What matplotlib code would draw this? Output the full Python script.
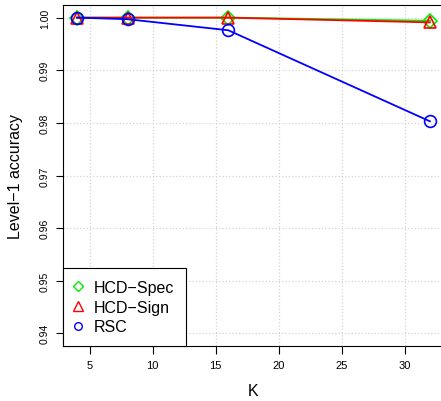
import matplotlib.pyplot as plt
from matplotlib.lines import Line2D

plt.rcParams["font.family"] = ["Liberation Sans", "DejaVu Sans"]

# Accuracy vs K
K = [4, 8, 16, 32]
hcd_spec = [1.0, 1.0, 1.0, 0.9994]
hcd_sign = [1.0, 1.0, 1.0, 0.9991]
rsc = [1.0, 0.9997, 0.9976, 0.9803]

series_names = ["HCD\u2212Spec", "HCD\u2212Sign", "RSC"]
xticks = [5, 10, 15, 20, 25, 30]
yticks = [0.94, 0.95, 0.96, 0.97, 0.98, 0.99, 1.00]

fig = plt.figure(figsize=(4.41, 4.02), dpi=100)
ax = fig.add_axes([63 / 441, 55 / 402, 381 / 441, 341 / 402])

for x in xticks:
    ax.axvline(x, color="#d3d3d3", ls=":", lw=0.9, zorder=0)
for y in yticks:
    ax.axhline(y, color="#d3d3d3", ls=":", lw=0.9, zorder=0)

ax.plot(K, hcd_spec, color="#00ee00", lw=1.3, marker="D", ms=7.3,
        mfc="none", mew=1.2)
ax.plot(K, hcd_sign, color="red", lw=1.3, marker="^", ms=9,
        mfc="none", mew=1.2)
ax.plot(K, rsc, color="blue", lw=1.3, marker="o", ms=8.5,
        mfc="none", mew=1.2)

ax.set_xlim(2.88, 33.12)
ax.set_ylim(0.9376, 1.0024)
ax.set_xticks(xticks)
ax.set_yticks(yticks)
ax.set_yticklabels([f"{v:.2f}" for v in yticks], rotation=90, va="center")
ax.tick_params(axis="x", labelsize=8, length=5.5, width=0.8, pad=4.5)
ax.tick_params(axis="y", labelsize=7.5, length=5, width=0.8, pad=4.5)

for s in ax.spines.values():
    s.set_linewidth(0.8)
    s.set_color("black")
ax.spines["right"].set_visible(False)

ax.set_xlabel("K", fontsize=11.5)
ax.set_ylabel("Level\u22121 accuracy", fontsize=11.5)
ax.xaxis.set_label_coords(0.5, -0.108)
ax.yaxis.set_label_coords(-0.105, 0.5)

handles = [
    Line2D([], [], ls="none", marker="D", ms=5.2, mfc="none", mew=1.0, color="#00ee00"),
    Line2D([], [], ls="none", marker="^", ms=6.5, mfc="none", mew=1.0, color="red"),
    Line2D([], [], ls="none", marker="o", ms=5.5, mfc="none", mew=1.0, color="blue"),
]
leg = ax.legend(handles, series_names, loc="lower left", bbox_to_anchor=(0, 0),
                borderaxespad=0, fontsize=11.5, fancybox=False, framealpha=1,
                edgecolor="black", borderpad=0.72, labelspacing=0.3,
                handlelength=0.45, handletextpad=0.75)
leg.get_frame().set_linewidth(0.8)

fig.savefig("out.png", dpi=100)
